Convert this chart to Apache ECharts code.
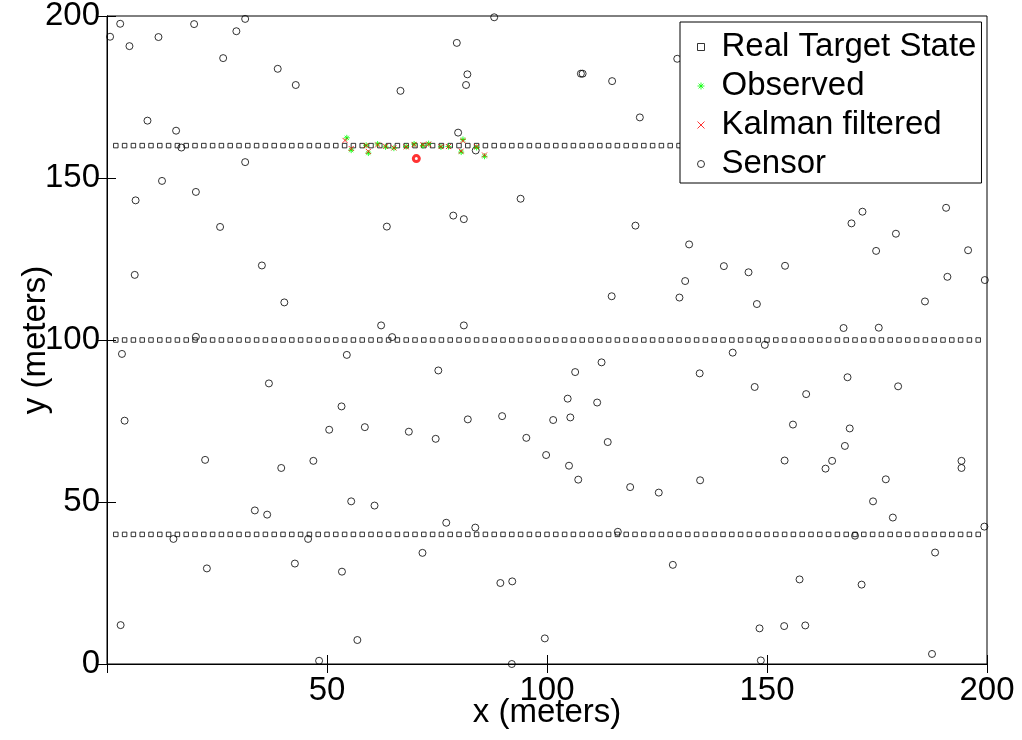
<!DOCTYPE html>
<html><head><meta charset="utf-8">
<script src="https://cdn.jsdelivr.net/npm/echarts@6/dist/echarts.min.js"></script>
<style>html,body{margin:0;padding:0;background:#fff}#c{width:1022px;height:740px}</style>
</head><body><div id="c"></div><script>
// ---- data ----
const targetX = [2,4,6,8,10,12,14,16,18,20,22,24,26,28,30,32,34,36,38,40,42,44,46,48,50,52,54,56,58,60,62,64,66,68,70,72,74,76,78,80,82,84,86,88,90,92,94,96,98,100,102,104,106,108,110,112,114,116,118,120,122,124,126,128,130,132,134,136,138,140,142,144,146,148,150,152,154,156,158,160,162,164,166,168,170,172,174,176,178,180,182,184,186,188,190,192,194,196,198];
const targetRowsY = [160, 100, 40];
const observed = [[54.5,162.4],[55.5,158.6],[58.9,160.1],[59.4,157.7],[61.5,160.5],[63.3,159.6],[65.2,159.2],[68.0,159.7],[69.8,160.5],[71.8,160.0],[73.1,160.6],[75.9,159.6],[77.6,159.7],[80.9,161.9],[80.5,158.0],[84.0,159.4],[85.8,156.7]];
const kalman = [[54.1,161.6],[55.5,159.1],[58.9,160.0],[59.4,158.2],[61.5,160.2],[63.3,159.8],[65.2,159.3],[68.0,159.6],[69.8,160.3],[71.8,160.3],[73.1,160.4],[75.9,159.7],[77.6,159.7],[80.9,161.5],[80.5,158.3],[84.0,159.7],[85.8,157.1]];
const estimate = [[70.3,156.0]];
const sensors = [
[0.7,193.6],[3.0,197.6],[5.1,190.7],[11.7,193.5],[19.8,197.5],[26.4,187.0],[29.4,195.3],[31.4,199.1],[38.8,183.7],[42.9,178.7],[66.7,176.9],[9.2,167.7],[15.7,164.6],[16.9,159.4],[31.4,154.9],[12.5,149.1],[6.5,143.1],[20.2,145.7],[25.7,134.9],[63.6,135.0],
[88.0,199.6],[79.5,191.7],[81.9,182.0],[81.6,178.7],[107.7,182.2],[108.1,182.2],[114.8,179.9],[121.1,168.7],[129.6,186.8],[79.8,164.0],[83.8,158.5],[94.0,143.6],[78.7,138.4],[81.1,137.3],[120.1,135.3],
[171.7,139.6],[169.2,136.0],[190.7,140.8],
[6.3,120.1],[35.2,123.0],[40.3,111.6],[62.3,104.5],[64.8,100.9],[20.2,101.0],[3.4,95.7],[54.5,95.4],[36.8,86.6],[53.3,79.5],[50.5,72.3],[58.6,73.1],[4.0,75.1],
[132.3,129.5],[131.4,118.2],[130.1,113.1],[114.7,113.5],[81.1,104.5],[75.3,90.6],[106.4,90.1],[112.4,93.1],[104.7,81.9],[111.4,80.7],[68.6,71.7],[74.7,69.5],[82.0,75.5],[89.8,76.5],[95.3,69.8],[101.4,75.3],[105.3,76.1],[113.8,68.5],
[179.3,132.8],[174.8,127.5],[195.7,127.7],[140.2,122.8],[145.8,120.9],[154.1,122.9],[147.7,111.1],[191.0,119.5],[199.5,118.5],[185.9,111.9],[167.4,103.7],[175.4,103.8],[149.5,98.5],[142.2,96.1],[134.7,89.7],[147.2,85.5],[168.3,88.5],[158.9,83.3],[179.8,85.7],[155.9,73.9],[168.8,72.7],[167.7,67.3],
[22.3,63.0],[39.6,60.5],[46.9,62.7],[55.5,50.2],[60.8,48.9],[33.6,47.4],[36.4,46.1],[15.1,38.6],[45.7,38.6],[42.7,31.0],[22.7,29.5],[53.4,28.5],[3.1,12.0],[56.9,7.4],[48.2,1.0],
[99.8,64.5],[105.0,61.2],[107.1,56.9],[118.9,54.6],[125.4,52.9],[77.1,43.6],[83.7,42.1],[116.1,40.8],[71.7,34.3],[128.6,30.6],[89.4,25.0],[92.1,25.5],[99.5,7.9],[92.0,0.0],
[154.0,62.8],[164.8,62.7],[163.3,60.3],[134.8,56.7],[177.0,57.0],[194.2,62.7],[194.2,60.5],[174.1,50.2],[178.6,45.2],[199.4,42.4],[170.0,39.6],[188.2,34.4],[157.4,26.1],[171.5,24.5],[148.3,11.0],[153.9,11.7],[158.7,11.9],[187.5,3.1],[148.6,1.1]
];
const seriesNames = ['Real Target State', 'Observed', 'Kalman filtered', 'Sensor'];
const xRange = [0, 200], yRange = [0, 200], tickStep = 50;
const xTitle = 'x (meters)', yTitle = 'y (meters)';

// ---- build ----
const targetData = [];
targetRowsY.forEach(y => targetX.forEach(x => targetData.push([x, y])));

const FONT = "'Liberation Sans', Arial, Helvetica, sans-serif";
const FS = 33;
const STAR = 'path://M5,0L5,10M0,5L10,5M1.5,1.5L8.5,8.5M1.5,8.5L8.5,1.5';
const CROSS = 'path://M0,0L10,10M0,10L10,0';
const hollow = c => ({ color: 'rgba(0,0,0,0)', borderColor: c, borderWidth: 1 });

const chart = echarts.init(document.getElementById('c'), null, { renderer: 'canvas' });
const axisCommon = {
  interval: tickStep,
  axisLine: { show: true, lineStyle: { color: '#000', width: 1 } },
  axisTick: { show: true, inside: true, length: 9, lineStyle: { color: '#000' } },
  splitLine: { show: false }
};
chart.setOption({
  animation: false,
  backgroundColor: '#fff',
  grid: { left: 107, right: 35, top: 16, bottom: 76, containLabel: false, outerBoundsMode: 'none',
    show: true, borderColor: '#000', borderWidth: 1, backgroundColor: 'rgba(0,0,0,0)' },
  xAxis: [
    Object.assign({}, axisCommon, {
      type: 'value', position: 'bottom', min: xRange[0], max: xRange[1],
      name: xTitle, nameLocation: 'middle', nameGap: 32, nameMoveOverlap: false,
      nameTextStyle: { fontFamily: FONT, fontSize: FS, color: '#000' },
      axisLabel: { fontFamily: FONT, fontSize: FS, color: '#000', margin: 10,
        formatter: v => (v === 0 ? '' : String(v)) }
    }),
    Object.assign({}, axisCommon, {
      type: 'value', position: 'top', min: xRange[0], max: xRange[1],
      axisLabel: { show: false }
    })
  ],
  yAxis: [
    Object.assign({}, axisCommon, {
      type: 'value', position: 'left', min: yRange[0], max: yRange[1],
      name: yTitle, nameLocation: 'middle', nameGap: 55, nameRotate: 90, nameMoveOverlap: false,
      nameTextStyle: { fontFamily: FONT, fontSize: FS, color: '#000' },
      axisLabel: { fontFamily: FONT, fontSize: FS, color: '#000', margin: 7 }
    }),
    Object.assign({}, axisCommon, {
      type: 'value', position: 'right', min: yRange[0], max: yRange[1],
      axisLabel: { show: false }
    })
  ],
  legend: {
    orient: 'vertical', left: 680, top: 22,
    padding: [7, 5, 1, 17],
    itemGap: 3, itemWidth: 7, itemHeight: 7,
    backgroundColor: '#fff', borderColor: '#000', borderWidth: 1, borderRadius: 0,
    textStyle: { fontFamily: FONT, fontSize: FS, color: '#000', lineHeight: 36, padding: [0, 0, 0, 12] },
    data: [
      { name: seriesNames[0], icon: 'rect', itemStyle: hollow('#000') },
      { name: seriesNames[1], icon: STAR, itemStyle: hollow('#00ff00') },
      { name: seriesNames[2], icon: CROSS, itemStyle: hollow('#ff0000') },
      { name: seriesNames[3], icon: 'circle', itemStyle: hollow('#000') }
    ]
  },
  series: [
    { name: seriesNames[0], type: 'scatter', symbol: 'rect', symbolSize: 4.5, data: targetData,
      itemStyle: hollow('#000'), silent: true },
    { name: seriesNames[3], type: 'scatter', symbol: 'circle', symbolSize: 7, data: sensors,
      itemStyle: hollow('#000'), silent: true },
    { name: seriesNames[1], type: 'scatter', symbol: STAR, symbolSize: 6, data: observed,
      itemStyle: hollow('#00ff00'), silent: true },
    { name: seriesNames[2], type: 'scatter', symbol: CROSS, symbolSize: 5, data: kalman,
      itemStyle: hollow('#ff0000'), silent: true },
    { name: 'Estimate', type: 'scatter', symbol: 'circle', symbolSize: 6, data: estimate,
      itemStyle: { color: 'rgba(0,0,0,0)', borderColor: '#ff0000', borderWidth: 3 }, silent: true }
  ]
});
</script></body></html>
